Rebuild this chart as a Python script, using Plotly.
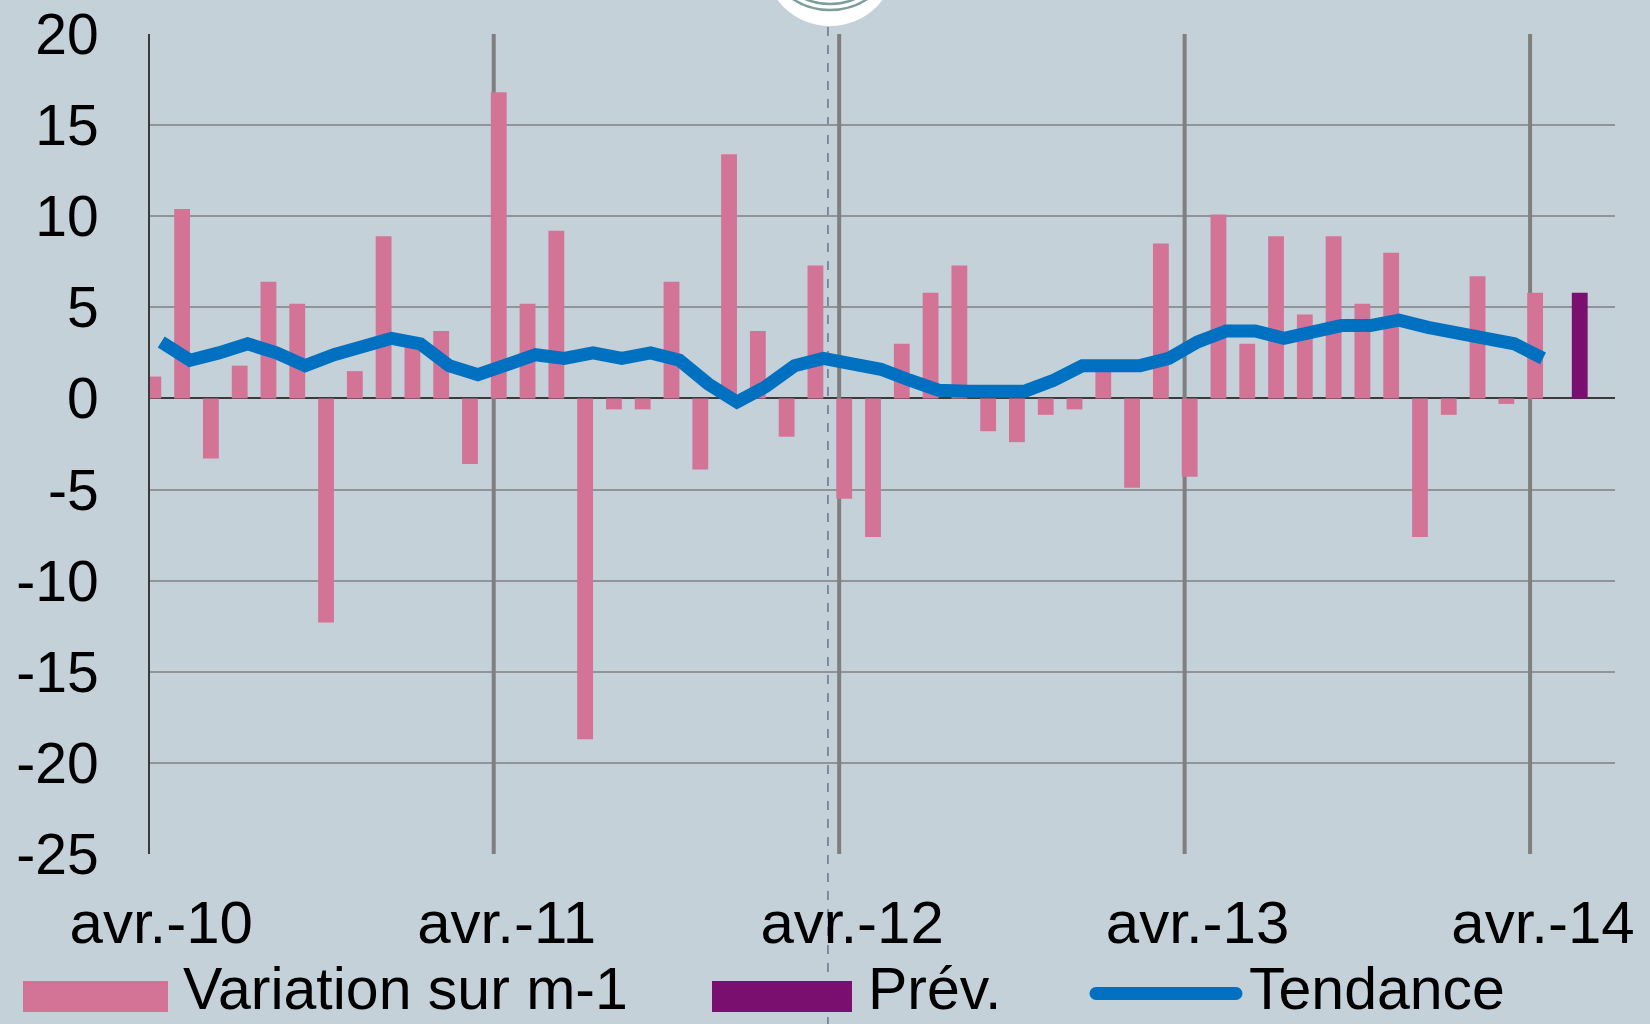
import plotly.graph_objects as go

# ---------------- data ----------------
month_names = ["avr.", "mai", "juin", "juil.", "août", "sept.", "oct.", "nov.", "déc.", "janv.", "févr.", "mars"]
months = []
for k in range(5):
    for j, m in enumerate(month_names):
        yy = 10 + k + (1 if j >= 9 else 0)
        months.append(f"{m}-{yy:02d}")
months = months[:50]  # avr.-10 ... mai-14

variation = [1.2, 10.4, -3.3, 1.8, 6.4, 5.2, -12.3, 1.5, 8.9, 3.0, 3.7, -3.6,
             16.8, 5.2, 9.2, -18.7, -0.6, -0.6, 6.4, -3.9, 13.4, 3.7, -2.1, 7.3,
             -5.5, -7.6, 3.0, 5.8, 7.3, -1.8, -2.4, -0.9, -0.6, 1.5, -4.9, 8.5,
             -4.3, 10.1, 3.0, 8.9, 4.6, 8.9, 5.2, 8.0, -7.6, -0.9, 6.7, -0.3,
             5.8, None]
prevision = [None] * 49 + [5.8]
tendance = [3.1, 2.1, 2.5, 3.0, 2.5, 1.8, 2.4, 2.9, 3.3, 3.0, 1.8, 1.3,
            1.8, 2.4, 2.2, 2.5, 2.2, 2.5, 2.1, 0.8, -0.2, 0.65, 1.8, 2.2,
            1.9, 1.6, 1.0, 0.45, 0.4, 0.4, 0.4, 1.0, 1.8, 1.8, 1.8, 2.2,
            3.1, 3.7, 3.7, 3.3, 3.6, 4.0, 4.0, 4.3, 3.9, 3.6, 3.3, 3.0,
            2.2, None]
tick_labels = ["avr.-10", "avr.-11", "avr.-12", "avr.-13", "avr.-14"]
y_tick_vals = [-25, -20, -15, -10, -5, 0, 5, 10, 15, 20]
y_tick_text = ["-25", "-20", "-15", "-10", "-5", "0", "5", "10", "15", "20"]

x_idx = list(range(len(months)))
tick_vals = [months.index(t) for t in tick_labels]

# ---------------- style ----------------
BG = "#C5D1D8"
PINK = "#D37497"
PURPLE = "#7B0F6F"
BLUE = "#0070C0"
GRID = "#8E9498"
FONT = "Liberation Sans, Arial, sans-serif"

W, H = 1650, 1024
PX_L, PX_R, PX_T, PX_B = 150, 1615, 34, 854
X_MIN, X_MAX = -0.39, 50.5
BAR_W = 0.55


def px2x(px):
    return (px - PX_L) / (PX_R - PX_L)


def px2y(py):
    return (PX_B - py) / (PX_B - PX_T)


def idx2paper(i):
    return (i - X_MIN) / (X_MAX - X_MIN)


fig = go.Figure()
fig.add_trace(go.Bar(x=x_idx, y=variation, name="Variation sur m-1",
                     marker=dict(color=PINK, line=dict(width=0)),
                     width=BAR_W, offset=-BAR_W))
fig.add_trace(go.Bar(x=x_idx, y=prevision, name="Prév.",
                     marker=dict(color=PURPLE, line=dict(width=0)),
                     width=BAR_W, offset=0))
fig.add_trace(go.Scatter(x=x_idx, y=tendance, name="Tendance", mode="lines",
                         line=dict(color=BLUE, width=13)))

shapes = []
# year separators
for t in tick_vals[1:]:
    shapes.append(dict(type="line", xref="x", yref="y", x0=t - 0.45, x1=t - 0.45,
                       y0=-25, y1=20, line=dict(color="#7F7F7F", width=4),
                       layer="between"))
# dashed marker line
xd = idx2paper(23.16)
shapes.append(dict(type="line", xref="paper", yref="paper", x0=xd, x1=xd,
                   y0=px2y(27), y1=px2y(H), line=dict(color="#5B6483", width=1.3, dash="dash"),
                   layer="below"))
# logo at top
shapes.append(dict(type="circle", xref="paper", yref="paper",
                   x0=px2x(830 - 66), x1=px2x(830 + 66), y0=px2y(-106), y1=px2y(26),
                   fillcolor="white", line=dict(width=0), layer="above"))
for r in (68, 62):
    shapes.append(dict(type="circle", xref="paper", yref="paper",
                       x0=px2x(830 - r), x1=px2x(830 + r), y0=px2y(-58 - r), y1=px2y(-58 + r),
                       line=dict(color="#7D9E9A", width=2.5), layer="above"))
# legend symbols
shapes.append(dict(type="rect", xref="paper", yref="paper",
                   x0=px2x(23), x1=px2x(168), y0=px2y(1012), y1=px2y(981),
                   fillcolor=PINK, line=dict(width=0), layer="above"))
shapes.append(dict(type="rect", xref="paper", yref="paper",
                   x0=px2x(712), x1=px2x(852), y0=px2y(1012), y1=px2y(981),
                   fillcolor=PURPLE, line=dict(width=0), layer="above"))
shapes.append(dict(type="rect", xref="paper", yref="paper",
                   x0=px2x(1096), x1=px2x(1236), y0=px2y(1000), y1=px2y(987),
                   fillcolor=BLUE, line=dict(width=0), layer="above"))
for cx in (1096, 1236):
    shapes.append(dict(type="circle", xref="paper", yref="paper",
                       x0=px2x(cx - 6.5), x1=px2x(cx + 6.5), y0=px2y(1000), y1=px2y(987),
                       fillcolor=BLUE, line=dict(width=0), layer="above"))

annotations = []
for txt, px in (("Variation sur m-1", 182), ("Prév.", 867), ("Tendance", 1248)):
    annotations.append(dict(text=txt, xref="paper", yref="paper", x=px2x(px), y=px2y(989),
                            xanchor="left", yanchor="middle", showarrow=False, borderpad=0,
                            font=dict(family=FONT, size=59, color="black")))

fig.update_layout(
    width=W, height=H,
    margin=dict(l=PX_L, r=W - PX_R, t=PX_T, b=H - PX_B, pad=0, autoexpand=False),
    paper_bgcolor=BG, plot_bgcolor="rgba(0,0,0,0)",
    barmode="overlay", showlegend=False,
    font=dict(family=FONT, color="black"),
    shapes=shapes, annotations=annotations,
    xaxis=dict(range=[X_MIN, X_MAX], tickmode="array", tickvals=tick_vals, ticktext=tick_labels,
               showgrid=False, zeroline=False, showline=False, ticks="", automargin=False,
               tickfont=dict(family=FONT, size=60, color="black"), ticklabelstandoff=28),
    yaxis=dict(range=[-25, 20], tickmode="array", tickvals=y_tick_vals, ticktext=y_tick_text,
               showgrid=True, gridcolor=GRID, gridwidth=1.5,
               zeroline=True, zerolinecolor="#3A3A3A", zerolinewidth=1.7,
               showline=True, linecolor="#3A3A3A", linewidth=1.7, ticks="", automargin=False,
               tickfont=dict(family=FONT, size=57, color="black"), ticklabelstandoff=38),
)

fig.write_html("out.html", config={"displayModeBar": False},
               post_script="document.body.style.margin='0';document.body.style.overflow='hidden';")
